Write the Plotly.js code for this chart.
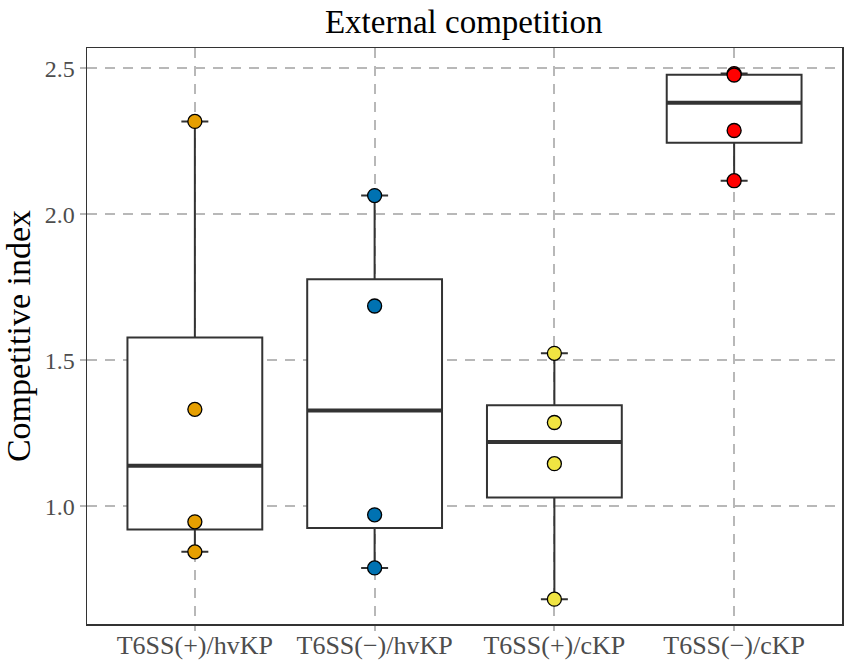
<!DOCTYPE html>
<html>
<head>
<meta charset="utf-8">
<script src="https://cdn.plot.ly/plotly-3.0.1.min.js"></script>
<style>
  body { margin: 0; background: #fff; }
  #chart { width: 851px; height: 665px; }
</style>
</head>
<body>
<div id="chart"></div>
<script>
var groups = ["T6SS(+)/hvKP", "T6SS(\u2212)/hvKP", "T6SS(+)/cKP", "T6SS(\u2212)/cKP"];
var pointColors = ["#E69F00", "#0072B2", "#F0E442", "#FF0000"];

// replicate values per group
var hvPlus = [2.318, 1.332, 0.947, 0.844];
var hvMinus = [2.064, 1.686, 0.971, 0.789];
var cPlus = [1.524, 1.287, 1.146, 0.682];
var cMinus = [2.482, 2.477, 2.287, 2.115];

// box statistics
var lowerWhisker = [0.844, 0.789, 0.682, 2.115];
var q1 = [0.921, 0.926, 1.030, 2.245];
var median = [1.139, 1.328, 1.220, 2.382];
var q3 = [1.578, 1.778, 1.346, 2.478];
var upperWhisker = [2.318, 2.064, 1.524, 2.482];

var allPoints = [hvPlus, hvMinus, cPlus, cMinus];
var pos = [0, 1, 2, 3];
var boxWidth = 0.75;
var serif = "Liberation Serif, Times New Roman, serif";

var traces = [];

traces.push({
    type: "box",
    x: pos,
    q1: q1,
    median: median,
    q3: q3,
    lowerfence: lowerWhisker,
    upperfence: upperWhisker,
    width: boxWidth,
    whiskerwidth: 0.2,
    fillcolor: "#ffffff",
    line: { color: "#333333", width: 2 },
    boxpoints: false,
    hoverinfo: "skip",
    showlegend: false
});

// thicker median bars like ggplot
pos.forEach(function(p, i) {
    traces.push({
        type: "scatter",
        mode: "lines",
        x: [p - boxWidth / 2, p + boxWidth / 2],
        y: [median[i], median[i]],
        line: { color: "#333333", width: 4 },
        hoverinfo: "skip",
        showlegend: false
    });
});

allPoints.forEach(function(vals, i) {
    traces.push({
        type: "scatter",
        mode: "markers",
        x: vals.map(function() { return pos[i]; }),
        y: vals,
        marker: { color: pointColors[i], size: 14, line: { color: "#000000", width: 1.3 } },
        showlegend: false
    });
});

var layout = {
    width: 851,
    height: 665,
    margin: { l: 87, r: 9, t: 48, b: 41 },
    paper_bgcolor: "#ffffff",
    plot_bgcolor: "#ffffff",
    showlegend: false,
    title: {
        text: "External competition",
        font: { family: serif, size: 33, color: "#000000" },
        x: 0.545, xanchor: "center",
        y: 0.968, yanchor: "middle"
    },
    xaxis: {
        range: [-0.6, 3.6],
        tickvals: pos,
        ticktext: groups,
        showgrid: true,
        gridcolor: "#b8b8b8",
        griddash: "10px,8px",
        gridwidth: 1.8,
        zeroline: false,
        showline: true,
        linecolor: "#333333",
        linewidth: 1.5,
        mirror: true,
        ticks: "outside",
        ticklen: 5,
        tickcolor: "#b8b8b8",
        tickwidth: 1.8,
        ticklabelstandoff: -8,
        tickfont: { family: serif, size: 26, color: "#4d4d4d" }
    },
    yaxis: {
        range: [0.597, 2.5695],
        tickvals: [1.0, 1.5, 2.0, 2.5],
        ticktext: ["1.0", "1.5", "2.0", "2.5"],
        showgrid: true,
        gridcolor: "#b8b8b8",
        griddash: "10px,8px",
        gridwidth: 1.8,
        zeroline: false,
        showline: true,
        linecolor: "#333333",
        linewidth: 1.5,
        mirror: true,
        ticks: "outside",
        ticklen: 6,
        tickcolor: "#b8b8b8",
        tickwidth: 1.8,
        tickfont: { family: serif, size: 24, color: "#4d4d4d" },
        title: {
            text: "Competitive index",
            font: { family: serif, size: 34, color: "#000000" },
            standoff: 12
        }
    }
};

Plotly.newPlot("chart", traces, layout, { displayModeBar: false, staticPlot: true });
</script>
</body>
</html>
